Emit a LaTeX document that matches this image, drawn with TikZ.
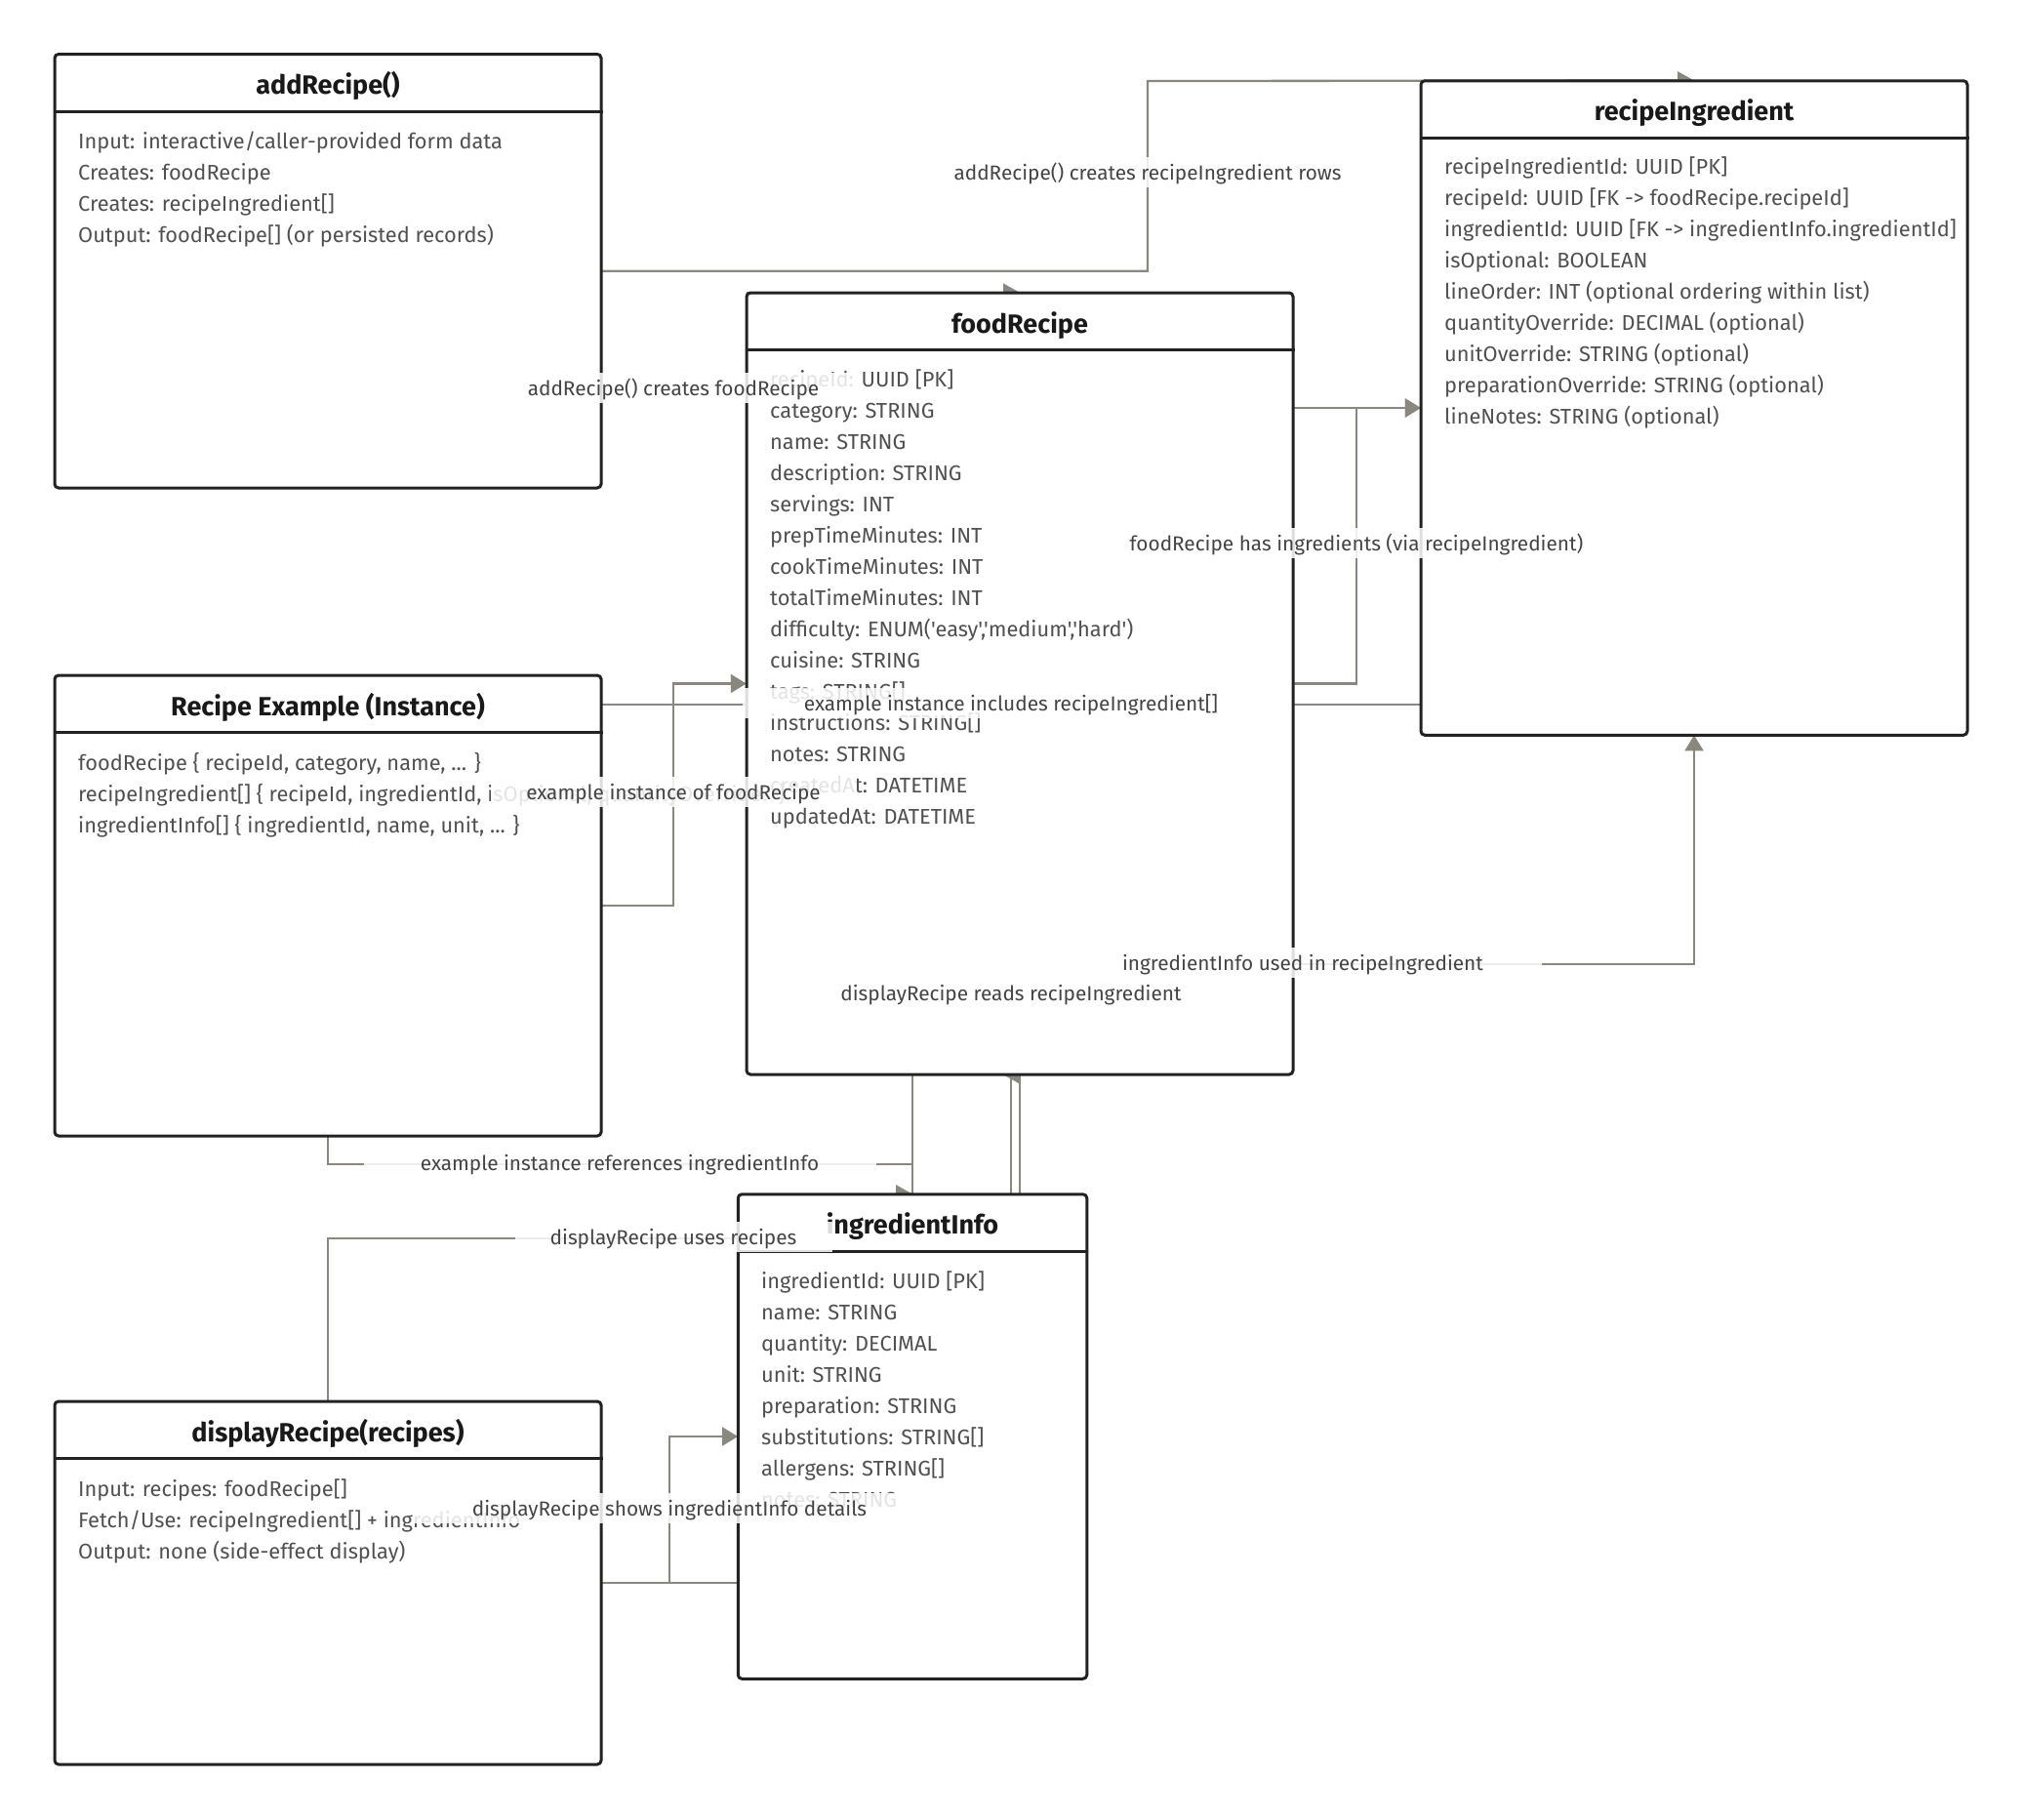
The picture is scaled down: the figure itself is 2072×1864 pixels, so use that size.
\documentclass[tikz,border=0pt]{standalone}
\usepackage{fontspec}
\setmainfont{Fira Sans}[Ligatures=TeXOff]
\usetikzlibrary{arrows.meta}
\definecolor{edgec}{HTML}{8A877F}
\definecolor{boxc}{HTML}{222222}
\definecolor{txtc}{HTML}{505050}
\definecolor{lblc}{HTML}{444444}
\newcommand\umlbox[6]{%
  \node[box, minimum width=#4pt, minimum height=#5pt] (#1) at (#2,#3) {};
  \draw[hdr] ([yshift=-60pt]#1.north west) -- ([yshift=-60pt]#1.north east);
  \node[ttl, anchor=base] (#1-title) at ([yshift=-42.5pt]#1.north) {#6};
}
\newcommand\bl[4]{\node[bodytxt] (#1) at (#2,#3) {#4};}
\begin{document}
\begin{tikzpicture}[x=1pt,y=-1pt,
  box/.style={draw=boxc, line width=3pt, rounded corners=4pt, fill=white, inner sep=0pt},
  hdr/.style={draw=boxc, line width=3pt},
  ttl/.style={font=\fontsize{27}{31}\selectfont\bfseries, text=black!90, inner sep=0pt},
  bodytxt/.style={font=\fontsize{21.8}{26}\selectfont, text=txtc, inner sep=0pt, anchor=base west},
  edge/.style={draw=edgec, line width=2.3pt},
  tip/.style={-{Triangle[length=16pt,width=19pt]}},
  lbl/.style={font=\fontsize{20.8}{25}\selectfont, text=lblc, fill=white, fill opacity=0.85, text opacity=1, inner sep=0pt, text height=20pt, text depth=4pt, minimum height=31pt},
]
\fill[white] (0,0) rectangle (2072,1864);
\useasboundingbox (0,0) rectangle (2072,1864);

% reference frames of the six boxes (used by the connectors)
\path node[minimum width=560pt, minimum height=444.5pt, inner sep=0pt] (addR) at (336,277.75) {}
      node[minimum width=560pt, minimum height=801pt, inner sep=0pt] (food) at (1045,700.5) {}
      node[minimum width=560pt, minimum height=670.5pt, inner sep=0pt] (ring) at (1736,418) {}
      node[minimum width=560pt, minimum height=472pt, inner sep=0pt] (rex) at (336,928) {}
      node[minimum width=357.5pt, minimum height=496.5pt, inner sep=0pt] (info) at (935,1472) {}
      node[minimum width=560pt, minimum height=372pt, inner sep=0pt] (disp) at (336,1622) {};

% ---------- edges ----------
% addRecipe() creates recipeIngredient rows
\draw[edge] (addR.east) -| (1176,83) -- ([xshift=-17pt]ring.north);
\fill[edgec] (ring.north) -- ++(-17,-9.5) -- ++(0,19) -- cycle;
% addRecipe() creates foodRecipe
\draw[edge] (addR.east) -- (1176,277.75);
\draw[edge] (food.north west) -- ([xshift=-17pt]food.north);
\fill[edgec] (food.north) -- ++(-17,-9.5) -- ++(0,19) -- cycle;
% foodRecipe has ingredients
\draw[edge, tip] (food.east) -- (1390,700.5) |- (ring.west);
% displayRecipe reads recipeIngredient
\draw[edge, tip] (disp.east) -| (info.north |- ring.west) -- (ring.west);
% example instance includes recipeIngredient[]
\coordinate (e4s) at ([yshift=-30pt]rex.north east);
\draw[edge] (e4s) -- (e4s -| ring.west);
% example instance of foodRecipe
\draw[edge, tip] (rex.east) -- (690,928) |- (food.west);
% example instance references ingredientInfo
\draw[edge] (rex.south) |- (935,1193) -- (info.north);
\fill[edgec] (info.north) -- ++(-17,-9.5) -- ++(0,19) -- cycle;
% displayRecipe uses recipes
\draw[edge] (disp.north) |- (1036,1269) -- ([xshift=-9pt]food.south);
\fill[edgec] ([xshift=-17pt]food.south) -- ++(17,-9.5) -- ++(0,19) -- cycle;
% ingredientInfo used in recipeIngredient
\draw[edge, tip] (info.north -| food.south) -- (1045,988) -| (ring.south);
% displayRecipe shows ingredientInfo details
\draw[edge, tip] (disp.east) -- (686,1622) |- (info.west);

% ---------- boxes ----------
\umlbox{addRB}{336}{277.75}{560}{444.5}{addRecipe()}
\umlbox{ringB}{1736}{418}{560}{670.5}{recipeIngredient}
\umlbox{foodB}{1045}{700.5}{560}{801}{foodRecipe}
\umlbox{rexB}{336}{928}{560}{472}{Recipe Example (Instance)}
\umlbox{infoB}{935}{1472}{357.5}{496.5}{ingredientInfo}
\umlbox{dispB}{336}{1622}{560}{372}{displayRecipe(recipes)}

% ---------- body text ----------
\bl{a1}{80}{152.5}{Input: interactive/caller-provided form data}
\bl{a2}{80}{184.5}{Creates: foodRecipe}
\bl{a3}{80}{216.5}{Creates: recipeIngredient[]}
\bl{a4}{80}{248.5}{Output: foodRecipe[] (or persisted records)}

\bl{f1}{789}{396.5}{recipeId: UUID [PK]}
\bl{f2}{789}{428.5}{category: STRING}
\bl{f3}{789}{460.5}{name: STRING}
\bl{f4}{789}{492.5}{description: STRING}
\bl{f5}{789}{524.5}{servings: INT}
\bl{f6}{789}{556.5}{prepTimeMinutes: INT}
\bl{f7}{789}{588.5}{cookTimeMinutes: INT}
\bl{f8}{789}{620.5}{totalTimeMinutes: INT}
\bl{f9}{789}{652.5}{difficulty: ENUM('easy','medium','hard')}
\bl{f10}{789}{684.5}{cuisine: STRING}
\bl{f11}{789}{716.5}{tags: STRING[]}
\bl{f12}{789}{748.5}{instructions: STRING[]}
\bl{f13}{789}{780.5}{notes: STRING}
\bl{f14}{789}{812.5}{createdAt: DATETIME}
\bl{f15}{789}{844.5}{updatedAt: DATETIME}

\bl{r1}{1480}{178.5}{recipeIngredientId: UUID [PK]}
\bl{r2}{1480}{210.5}{recipeId: UUID [FK -> foodRecipe.recipeId]}
\bl{r3}{1480}{242.5}{ingredientId: UUID [FK -> ingredientInfo.ingredientId]}
\bl{r4}{1480}{274.5}{isOptional: BOOLEAN}
\bl{r5}{1480}{306.5}{lineOrder: INT (optional ordering within list)}
\bl{r6}{1480}{338.5}{quantityOverride: DECIMAL (optional)}
\bl{r7}{1480}{370.5}{unitOverride: STRING (optional)}
\bl{r8}{1480}{402.5}{preparationOverride: STRING (optional)}
\bl{r9}{1480}{434.5}{lineNotes: STRING (optional)}

\bl{x1}{80}{789}{foodRecipe \{ recipeId, category, name, ... \}}
\bl{x2}{80}{821}{recipeIngredient[] \{ recipeId, ingredientId, isOptional, quantityOverride? \}}
\bl{x3}{80}{853}{ingredientInfo[] \{ ingredientId, name, unit, ... \}}

\bl{i1}{780}{1320}{ingredientId: UUID [PK]}
\bl{i2}{780}{1352}{name: STRING}
\bl{i3}{780}{1384}{quantity: DECIMAL}
\bl{i4}{780}{1416}{unit: STRING}
\bl{i5}{780}{1448}{preparation: STRING}
\bl{i6}{780}{1480}{substitutions: STRING[]}
\bl{i7}{780}{1512}{allergens: STRING[]}
\bl{i8}{780}{1544}{notes: STRING}

\bl{d1}{80}{1533}{Input: recipes: foodRecipe[]}
\bl{d2}{80}{1565}{Fetch/Use: recipeIngredient[] + ingredientInfo}
\bl{d3}{80}{1597}{Output: none (side-effect display)}

% ---------- edge labels ----------
\node[lbl, minimum width=375pt] (l1) at (690,397.5) {addRecipe() creates foodRecipe};
\node[lbl, minimum width=512pt] (l2) at (1176,176.5) {addRecipe() creates recipeIngredient rows};
\node[lbl, minimum width=625pt] (l3) at (1390,556) {foodRecipe has ingredients (via recipeIngredient)};
\node[lbl, minimum width=550pt] (l4) at (1036,720.5) {example instance includes recipeIngredient[]};
\node[lbl, minimum width=375pt] (l5) at (690,811.5) {example instance of foodRecipe};
\node[lbl, minimum width=525pt] (l6) at (635,1191.5) {example instance references ingredientInfo};
\node[lbl, minimum width=325pt] (l7) at (690,1267.5) {displayRecipe uses recipes};
\node[lbl, minimum width=525pt] (l8) at (686,1545) {displayRecipe shows ingredientInfo details};
\node[lbl, minimum width=450pt] (l9) at (1036,1017.5) {displayRecipe reads recipeIngredient};
\node[lbl, minimum width=490pt] (l10) at (1335,986) {ingredientInfo used in recipeIngredient};
\end{tikzpicture}
\end{document}
